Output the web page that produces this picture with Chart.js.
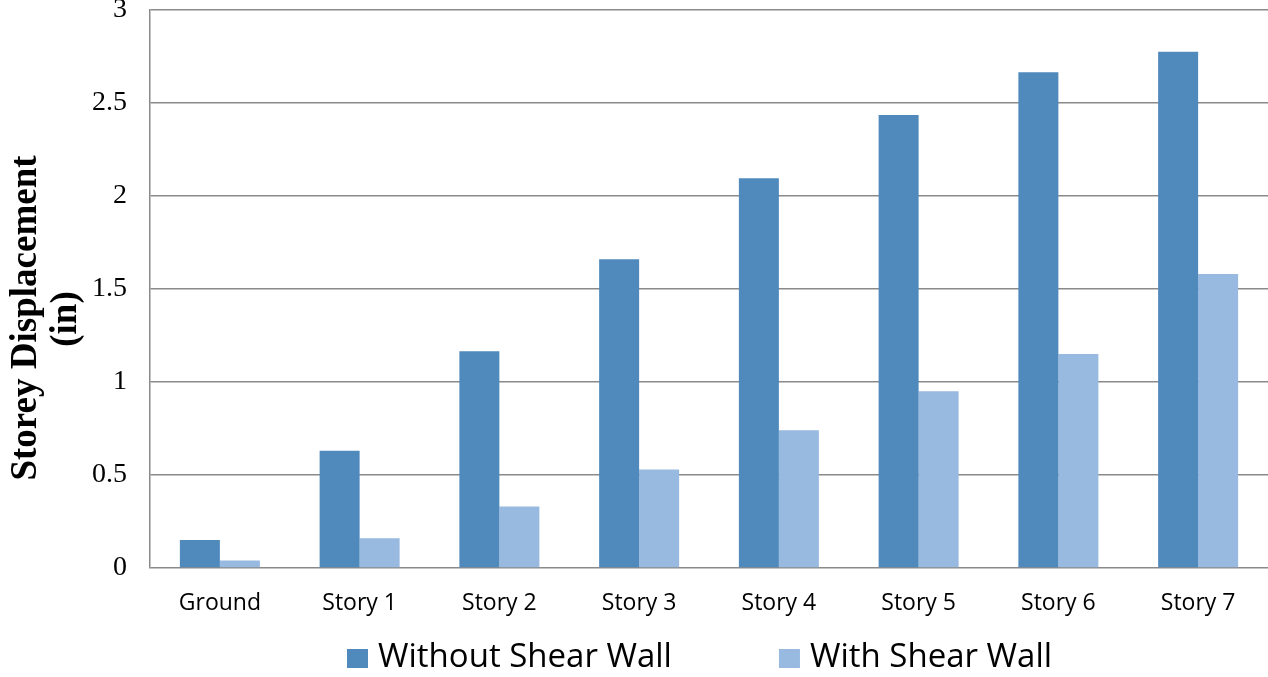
<!DOCTYPE html>
<html>
<head>
<meta charset="utf-8">
<title>Storey Displacement</title>
<script src="https://cdn.jsdelivr.net/npm/chart.js@4"></script>
<style>
  html, body { margin: 0; padding: 0; background: #ffffff; }
  #wrap { width: 1268px; height: 677px; position: relative; }
</style>
</head>
<body>
<div id="wrap"><canvas id="chart"></canvas></div>
<script>
// Storey labels along the x axis
const storeys = ['Ground', 'Story 1', 'Story 2', 'Story 3', 'Story 4', 'Story 5', 'Story 6', 'Story 7'];

// Lateral displacement per storey (inches)
const withoutShearWall = [0.15, 0.63, 1.165, 1.66, 2.095, 2.435, 2.665, 2.775];
const withShearWall = [0.04, 0.16, 0.33, 0.53, 0.74, 0.95, 1.15, 1.58];

// Series names, y axis ticks and title
const seriesNames = ['Without Shear Wall', 'With Shear Wall'];
const yTickValues = [0, 0.5, 1, 1.5, 2, 2.5, 3];
const yTickLabels = ['0', '0.5', '1', '1.5', '2', '2.5', '3'];
const yTitleLines = ['Storey Displacement', '(in)'];

const darkBlue = '#508abd';
const lightBlue = '#98b9e0';
const gridGrey = '#8a8a8a';

// Rotated two-line y axis title
const yTitlePlugin = {
  id: 'yTitle',
  afterDraw(chart) {
    const ctx = chart.ctx;
    ctx.save();
    ctx.fillStyle = '#000';
    ctx.font = 'bold 37px "Liberation Serif", "Times New Roman", serif';
    ctx.textAlign = 'center';
    ctx.textBaseline = 'middle';
    const pos = [[26, 318], [66, 319]];
    yTitleLines.forEach((line, i) => {
      ctx.save();
      ctx.translate(pos[i][0], pos[i][1]);
      ctx.rotate(-Math.PI / 2);
      ctx.fillText(line, 0, 0);
      ctx.restore();
    });
    ctx.restore();
  }
};

// Legend row under the category labels
const legendPlugin = {
  id: 'bottomLegend',
  afterDraw(chart) {
    const ctx = chart.ctx;
    ctx.save();
    ctx.font = '33px "Open Sans", sans-serif';
    ctx.textBaseline = 'alphabetic';
    ctx.textAlign = 'left';
    let x = 347;
    chart.data.datasets.forEach((ds) => {
      ctx.fillStyle = ds.backgroundColor;
      ctx.fillRect(x, 649, 21, 19);
      ctx.fillStyle = '#000';
      ctx.fillText(ds.label, x + 31, 667);
      x += 31 + ctx.measureText(ds.label).width + 107;
    });
    ctx.restore();
  }
};

new Chart(document.getElementById('chart'), {
  type: 'bar',
  data: {
    labels: storeys,
    datasets: [
      { label: seriesNames[0], data: withoutShearWall, backgroundColor: darkBlue },
      { label: seriesNames[1], data: withShearWall, backgroundColor: lightBlue }
    ]
  },
  options: {
    responsive: true,
    maintainAspectRatio: false,
    animation: false,
    layout: { padding: { top: 10, right: 0, bottom: 60, left: 0 } },
    datasets: {
      bar: { categoryPercentage: 0.5725, barPercentage: 1.0, borderWidth: 0 }
    },
    plugins: {
      legend: { display: false },
      tooltip: { enabled: false }
    },
    scales: {
      x: {
        grid: { display: false, drawTicks: false },
        border: { display: false },
        ticks: {
          color: '#000',
          padding: 22,
          maxRotation: 0,
          font: { family: '"Open Sans", sans-serif', size: 23 }
        },
        afterFit(scale) {
          scale.height = 49;
          scale.paddingLeft = 0;
          scale.paddingRight = 0;
        }
      },
      y: {
        min: 0,
        max: 3,
        afterBuildTicks(scale) {
          scale.ticks = yTickValues.map(v => ({ value: v }));
        },
        grid: { color: gridGrey, lineWidth: 1.5, drawTicks: false },
        border: { display: true, color: gridGrey, width: 1.5 },
        ticks: {
          color: '#000',
          padding: 23,
          font: { family: '"Liberation Serif", "Times New Roman", serif', size: 28 },
          callback: (value, index) => yTickLabels[index]
        },
        afterFit(scale) {
          scale.width = 150;
          scale.paddingTop = 0;
          scale.paddingBottom = 0;
        }
      }
    }
  },
  plugins: [yTitlePlugin, legendPlugin]
});
</script>
</body>
</html>
